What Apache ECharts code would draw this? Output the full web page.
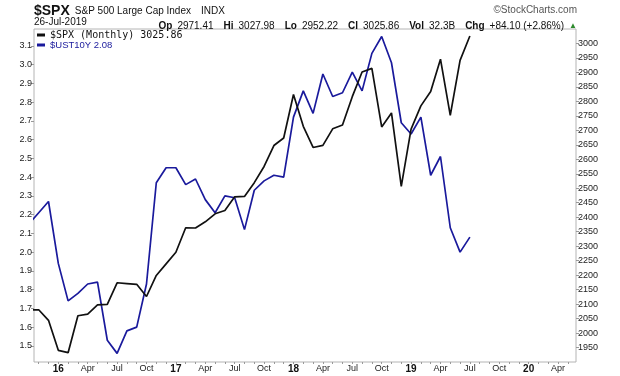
<!DOCTYPE html>
<html>
<head>
<meta charset="utf-8">
<script src="https://cdn.jsdelivr.net/npm/echarts@6/dist/echarts.min.js"></script>
<style>
  html, body { margin: 0; padding: 0; background: #fff; }
  #chart { width: 620px; height: 376px; }
</style>
</head>
<body>
<div id="chart"></div>
<script>
// monthly closes, Oct 2015 .. Jul 2019 (x = month index, 0 = Oct 2015)
var spx = [2079.36, 2080.41, 2043.94,
    1940.24, 1932.23, 2059.74, 2065.30, 2096.95, 2098.86, 2173.60, 2170.95, 2168.27, 2126.15, 2198.81, 2238.83,
    2278.87, 2363.64, 2362.72, 2384.20, 2411.80, 2423.41, 2470.30, 2471.65, 2519.36, 2575.26, 2647.58, 2673.61,
    2823.81, 2713.83, 2640.87, 2648.05, 2705.27, 2718.37, 2816.29, 2901.52, 2913.98, 2711.74, 2760.17, 2506.85,
    2704.10, 2784.49, 2834.40, 2945.83, 2752.06, 2941.76, 3025.86];
var ust10y = [2.15, 2.21, 2.27,
    1.94, 1.74, 1.78, 1.83, 1.84, 1.53, 1.46, 1.58, 1.60, 1.83, 2.37, 2.45,
    2.45, 2.36, 2.39, 2.28, 2.21, 2.30, 2.29, 2.12, 2.33, 2.38, 2.41, 2.40,
    2.72, 2.86, 2.74, 2.95, 2.83, 2.85, 2.96, 2.86, 3.06, 3.15, 3.01, 2.69,
    2.63, 2.72, 2.41, 2.51, 2.13, 2.00, 2.08];

// x tick labels (month index -> text)
var xLabelPos = [3, 6, 9, 12, 15, 18, 21, 24, 27, 30, 33, 36, 39, 42, 45, 48, 51, 54];
var xLabelText = ['16', 'Apr', 'Jul', 'Oct', '17', 'Apr', 'Jul', 'Oct', '18', 'Apr', 'Jul', 'Oct',
    '19', 'Apr', 'Jul', 'Oct', '20', 'Apr'];
var leftTicks = [1.5, 1.6, 1.7, 1.8, 1.9, 2.0, 2.1, 2.2, 2.3, 2.4, 2.5, 2.6, 2.7, 2.8, 2.9, 3.0, 3.1];
var rightTicks = [1950, 2000, 2050, 2100, 2150, 2200, 2250, 2300, 2350, 2400, 2450, 2500,
    2550, 2600, 2650, 2700, 2750, 2800, 2850, 2900, 2950, 3000];

var spxName = '$SPX (Monthly) 3025.86';
var ustName = '$UST10Y 2.08';
var blue = '#1a1a9c';
var font = '"Liberation Sans", Arial, sans-serif';

var monthTicks = [];
for (var m = 1; m <= 55; m++) monthTicks.push(m);

var myChart = echarts.init(document.getElementById('chart'));
var option = {
    animation: false,
    backgroundColor: '#fff',
    textStyle: { fontFamily: font },
    title: [
        {
            left: 34, top: 2, padding: 0,
            text: '{a|$SPX} {b|S&P 500 Large Cap Index}  {b|INDX}',
            textStyle: {
                rich: {
                    a: { fontSize: 14, fontWeight: 'bold', color: '#111', fontFamily: font },
                    b: { fontSize: 10, fontWeight: 'normal', color: '#111', fontFamily: font }
                }
            }
        },
        {
            right: 43, top: 5, padding: 0,
            text: '©StockCharts.com',
            textStyle: { fontSize: 10, fontWeight: 'normal', color: '#555', fontFamily: font }
        },
        {
            left: 34, top: 17, padding: 0,
            text: '26-Jul-2019',
            textStyle: { fontSize: 10, fontWeight: 'normal', color: '#111', fontFamily: font }
        },
        {
            right: 43, top: 17, padding: 0,
            text: '{k|Op} {v|2971.41}  {k|Hi} {v|3027.98}  {k|Lo} {v|2952.22}  {k|Cl} {v|3025.86}  {k|Vol} {v|32.3B}  {k|Chg} {v|+84.10 (+2.86%)} {g|▲}',
            textStyle: {
                rich: {
                    k: { fontSize: 10, fontWeight: 'bold', color: '#111', fontFamily: font },
                    v: { fontSize: 10, fontWeight: 'normal', color: '#111', fontFamily: font },
                    g: { fontSize: 8, fontWeight: 'normal', color: '#2e8b2e', fontFamily: font }
                }
            }
        }
    ],
    legend: {
        left: 37, top: 30, padding: 0,
        orient: 'vertical',
        itemGap: 0,
        itemWidth: 8, itemHeight: 3,
        icon: 'rect',
        selectedMode: false,
        data: [
            { name: spxName, textStyle: { color: '#111', fontFamily: '"DejaVu Sans Mono", monospace', fontSize: 10, lineHeight: 10 } },
            { name: ustName, textStyle: { color: blue, fontFamily: font, fontSize: 9.5, lineHeight: 10 } }
        ]
    },
    grid: {
        left: 34, right: 44, top: 29, bottom: 14,
        show: true, borderColor: '#b4b4b4', borderWidth: 1, backgroundColor: '#fff'
    },
    xAxis: {
        type: 'value', min: 0.52, max: 55.83,
        axisLine: { show: false },
        splitLine: { show: false },
        axisTick: { show: true, customValues: monthTicks, length: 2, lineStyle: { color: '#999' } },
        axisLabel: {
            customValues: xLabelPos,
            margin: 2,
            fontSize: 9, color: '#222',
            formatter: function (v) {
                var i = xLabelPos.indexOf(Math.round(v));
                if (i < 0) return '';
                var t = xLabelText[i];
                return /^\d+$/.test(t) ? '{y|' + t + '}' : t;
            },
            rich: { y: { fontWeight: 'bold', fontSize: 10, color: '#111', fontFamily: font } }
        }
    },
    yAxis: [
        {
            type: 'value', position: 'left', min: 1.414, max: 3.19,
            axisLine: { show: false },
            splitLine: { show: false },
            axisTick: { show: true, customValues: leftTicks, length: 3, lineStyle: { color: '#999' } },
            axisLabel: {
                customValues: leftTicks, margin: 2, fontSize: 9, color: '#222',
                formatter: function (v) { return v.toFixed(1); }
            }
        },
        {
            type: 'value', position: 'right', min: 1900, max: 3050,
            axisLine: { show: false },
            splitLine: { show: false },
            axisTick: { show: true, customValues: rightTicks, length: 3, lineStyle: { color: '#999' } },
            axisLabel: {
                customValues: rightTicks, margin: 2, fontSize: 9, color: '#222',
                formatter: function (v) { return String(v); }
            }
        }
    ],
    series: [
        {
            name: ustName, type: 'line', yAxisIndex: 0,
            data: ust10y.map(function (v, i) { return [i, v]; }),
            symbol: 'none', clip: true,
            itemStyle: { color: blue },
            lineStyle: { color: blue, width: 1.7 }
        },
        {
            name: spxName, type: 'line', yAxisIndex: 1,
            data: spx.map(function (v, i) { return [i, v]; }),
            symbol: 'none', clip: true,
            itemStyle: { color: '#111' },
            lineStyle: { color: '#111', width: 1.7 }
        }
    ]
};
myChart.setOption(option);
</script>
</body>
</html>
